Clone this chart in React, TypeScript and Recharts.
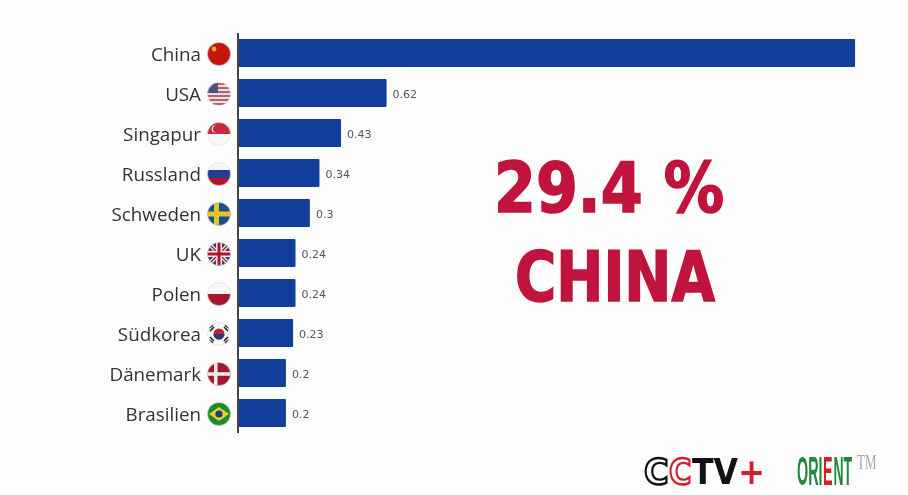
import { Bar, BarChart, LabelList, XAxis, YAxis } from "recharts";

const COUNTRIES = ["China", "USA", "Singapur", "Russland", "Schweden", "UK", "Polen", "Südkorea", "Dänemark", "Brasilien"];
const VALUES = [2.575, 0.62, 0.43, 0.34, 0.3, 0.24, 0.24, 0.23, 0.2, 0.2];
const VALUE_LABELS = ["", "0.62", "0.43", "0.34", "0.3", "0.24", "0.24", "0.23", "0.2", "0.2"];
const X_DOMAIN = [0, 2.75];

const rows = COUNTRIES.map((name, i) => ({ name, value: VALUES[i], label: VALUE_LABELS[i] }));

const BLUE = "#123f9b";
const CRIMSON = "#c0143c";
const FLAG_RED = "#b5122b";
const LOGO_RED = "#d0202c";
const LOGO_GREEN = "#1f8a3c";

function FlagArt({ name }: { name: string }) {
  switch (name) {
    case "China":
      return (
        <>
          <rect x={-12} y={-12} width={24} height={24} fill="#c4160c" />
          <circle cx={-5} cy={-5} r={2.4} fill="#e8b020" />
        </>
      );
    case "USA":
      return (
        <>
          <rect x={-12} y={-12} width={24} height={24} fill="#e6dfe4" />
          {[-10, -6, -2, 2, 6, 10].map((y) => (
            <rect key={y} x={-12} y={y - 1} width={24} height={2} fill="#b8606c" />
          ))}
          <rect x={-12} y={-12} width={11} height={11} fill="#4a4f7c" />
        </>
      );
    case "Singapur":
      return (
        <>
          <rect x={-12} y={-12} width={24} height={24} fill="#f8f6f6" />
          <rect x={-12} y={-12} width={24} height={12} fill="#c9283a" />
          <circle cx={-4} cy={-5} r={3.5} fill="#f4e4e4" />
          <circle cx={-2.8} cy={-5} r={3.2} fill="#c9283a" />
        </>
      );
    case "Russland":
      return (
        <>
          <rect x={-12} y={-12} width={24} height={8} fill="#f6f6f8" />
          <rect x={-12} y={-4} width={24} height={8} fill="#1d3f8f" />
          <rect x={-12} y={4} width={24} height={8} fill={FLAG_RED} />
        </>
      );
    case "Schweden":
      return (
        <>
          <rect x={-12} y={-12} width={24} height={24} fill="#1c4f86" />
          <rect x={-5} y={-12} width={5} height={24} fill="#e6c22c" />
          <rect x={-12} y={-2.5} width={24} height={5} fill="#e6c22c" />
        </>
      );
    case "UK":
      return (
        <>
          <rect x={-12} y={-12} width={24} height={24} fill="#3a3f70" />
          <path d="M-12 -12L12 12M12 -12L-12 12" stroke="#eeeeee" strokeWidth={4} />
          <path d="M-12 -12L12 12M12 -12L-12 12" stroke={FLAG_RED} strokeWidth={1.4} />
          <rect x={-3} y={-12} width={6} height={24} fill="#eeeeee" />
          <rect x={-12} y={-3} width={24} height={6} fill="#eeeeee" />
          <rect x={-1.5} y={-12} width={3} height={24} fill={FLAG_RED} />
          <rect x={-12} y={-1.5} width={24} height={3} fill={FLAG_RED} />
        </>
      );
    case "Polen":
      return (
        <>
          <rect x={-12} y={-12} width={24} height={12} fill="#f8f6f6" />
          <rect x={-12} y={0} width={24} height={12} fill="#a8152e" />
        </>
      );
    case "Südkorea":
      return (
        <>
          <rect x={-12} y={-12} width={24} height={24} fill="#f8f8f8" />
          <circle r={5.5} fill="#c0222e" />
          <path d="M-5.5 0A5.5 5.5 0 0 0 5.5 0Z" fill="#1f3a80" />
          <path d="M-10 -6L-6 -9M-9 -3L-5 -7M10 -6L6 -9M9 -3L5 -7M-10 6L-6 9M-9 3L-5 7M10 6L6 9M9 3L5 7" stroke="#222222" strokeWidth={1.6} />
        </>
      );
    case "Dänemark":
      return (
        <>
          <rect x={-12} y={-12} width={24} height={24} fill="#a3182f" />
          <rect x={-5} y={-12} width={3.5} height={24} fill="#f2eeee" />
          <rect x={-12} y={-1.75} width={24} height={3.5} fill="#f2eeee" />
        </>
      );
    default:
      return (
        <>
          <rect x={-12} y={-12} width={24} height={24} fill="#1f8a2c" />
          <path d="M-10 0L0 -7L10 0L0 7Z" fill="#e4d32c" />
          <circle r={3.6} fill="#1f3a80" />
        </>
      );
  }
}

function CountryTick({ x, y, payload }: any) {
  const name = payload.value as string;
  const clipId = `flag-${COUNTRIES.indexOf(name)}`;
  return (
    <g>
      <text
        x={x - 29}
        y={y + 1}
        dy="0.36em"
        textAnchor="end"
        fontFamily='"Open Sans", sans-serif'
        fontSize={18.8}
        fill="#333333"
      >
        {name}
      </text>
      <g transform={`translate(${x - 11},${y + 1})`}>
        <clipPath id={clipId}>
          <circle r={11.5} />
        </clipPath>
        <g clipPath={`url(#${clipId})`}>
          <FlagArt name={name} />
        </g>
        <circle r={11.5} fill="none" stroke="#d8d8d8" strokeWidth={0.6} />
      </g>
    </g>
  );
}

export default function App() {
  return (
    <div style={{ position: "absolute", left: 0, top: 0, width: 908, height: 495, background: "#fdfdfd", overflow: "hidden", filter: "blur(0.5px)" }}>
      <BarChart
        width={908}
        height={495}
        data={rows}
        layout="vertical"
        margin={{ top: 33, right: 11, bottom: 62, left: 0 }}
        barCategoryGap={6}
      >
        <XAxis type="number" domain={X_DOMAIN} hide />
        <YAxis
          type="category"
          dataKey="name"
          width={238}
          interval={0}
          tickLine={false}
          axisLine={{ stroke: "#444444", strokeWidth: 2 }}
          tick={<CountryTick />}
        />
        <Bar dataKey="value" fill={BLUE} barSize={28} radius={1} isAnimationActive={false}>
          <LabelList
            dataKey="label"
            position="right"
            offset={6}
            dy={1}
            fontFamily='"DejaVu Sans", sans-serif'
            fontSize={11}
            fill="#555555"
          />
        </Bar>
      </BarChart>

      {/* big callout and the broadcaster logos sit over the chart */}
      <svg width={908} height={495} style={{ position: "absolute", left: 0, top: 0, pointerEvents: "none" }}>
        <g
          fontFamily='"DejaVu Sans Condensed", "DejaVu Sans", sans-serif'
          fontWeight={700}
          fill={CRIMSON}
          stroke={CRIMSON}
          strokeWidth={1.5}
        >
          <text x={494} y={212} fontSize={69} textLength={230} lengthAdjust="spacingAndGlyphs">
            29.4 %
          </text>
          <text x={515} y={301} fontSize={69} textLength={200} lengthAdjust="spacingAndGlyphs">
            CHINA
          </text>
        </g>
        <g fontFamily='"DejaVu Sans", sans-serif' fontWeight={700} fontSize={36}>
          <text transform="translate(644,484) scale(0.93,1)" fill="none" stroke="#111111" strokeWidth={2.4}>C</text>
          <text transform="translate(669,484) scale(0.85,1)" fill="none" stroke={LOGO_RED} strokeWidth={2.4}>C</text>
          <text transform="translate(692,484) scale(0.88,1)" fill="#111111">TV</text>
          <text transform="translate(738,484) scale(0.9,1)" fill={LOGO_RED}>+</text>
        </g>
        <g fontFamily='"Liberation Sans", sans-serif' fontWeight={700} fontSize={41}>
          <text transform="translate(797,485) scale(0.35,1)" fill={LOGO_GREEN}>ORI</text>
          <text transform="translate(823,485) scale(0.35,1)" fill={LOGO_RED}>E</text>
          <text transform="translate(833.5,485) scale(0.34,1)" fill={LOGO_GREEN}>NT</text>
        </g>
        <text transform="translate(857,469) scale(0.65,1)" fontFamily='"Liberation Serif", serif' fontSize={20} fill="#a8a8a8">
          TM
        </text>
      </svg>
    </div>
  );
}
